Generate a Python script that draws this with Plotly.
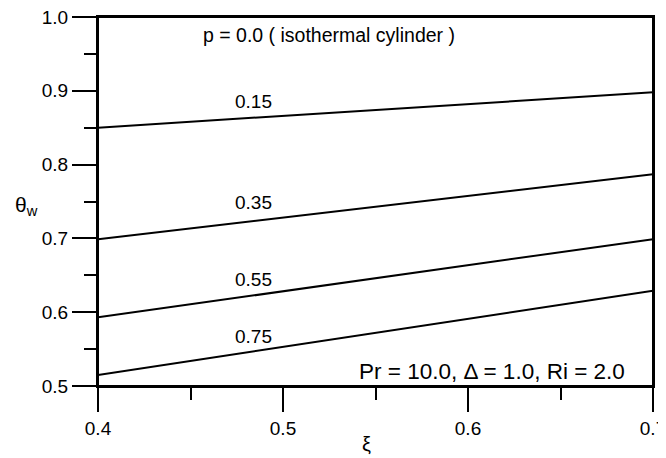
import plotly.graph_objects as go

# Data
xi = [0.4, 0.7]
p_labels = ["0.15", "0.35", "0.55", "0.75"]
theta_w = {
    "0.15": [0.850, 0.898],
    "0.35": [0.699, 0.787],
    "0.55": [0.593, 0.699],
    "0.75": [0.515, 0.629],
}
label_pos_x = [0.484, 0.484, 0.484, 0.484]
label_pos_y = [0.886, 0.748, 0.644, 0.567]

FONT = "Arial, Liberation Sans, Helvetica, sans-serif"
FS = 19

fig = go.Figure()
for p in p_labels:
    fig.add_trace(go.Scatter(x=xi, y=theta_w[p], mode="lines",
                             line=dict(color="black", width=2), showlegend=False))

for p, lx, ly in zip(p_labels, label_pos_x, label_pos_y):
    fig.add_annotation(x=lx, y=ly, text=p, showarrow=False, xanchor="center", yanchor="middle",
                       font=dict(size=FS, color="black", family=FONT))

fig.add_annotation(x=0.525, y=0.975, text="p = 0.0 ( isothermal cylinder )", showarrow=False,
                   xanchor="center", yanchor="middle",
                   font=dict(size=19.5, color="black", family=FONT))
fig.add_annotation(x=0.686, y=0.5196, text="Pr = 10.0, \u0394 = 1.0, Ri = 2.0", showarrow=False,
                   xanchor="right", yanchor="middle",
                   font=dict(size=22.5, color="black", family=FONT))

# axis titles
fig.add_annotation(xref="paper", yref="paper", x=-0.128, y=0.489, text="\u03b8<sub>w</sub>",
                   showarrow=False, xanchor="center", yanchor="middle",
                   font=dict(size=21, color="black", family=FONT))
fig.add_annotation(xref="paper", yref="paper", x=0.483, y=-0.158, text="\u03be",
                   showarrow=False, xanchor="center", yanchor="middle",
                   font=dict(size=20, color="black", family=FONT))

# plot frame
fig.add_shape(type="rect", xref="paper", yref="paper", x0=0, y0=0, x1=1, y1=1,
              line=dict(color="black", width=2), layer="above")

axis_common = dict(showgrid=False, zeroline=False, showline=True, linecolor="black",
                   linewidth=2, mirror=True, ticks="outside", ticklen=24, tickwidth=2,
                   tickcolor="black", automargin=False, ticklabeloverflow="allow",
                   tickfont=dict(size=FS, color="black", family=FONT))

fig.update_xaxes(range=[0.4, 0.7], tick0=0.4, dtick=0.1, tickformat=".1f",
                 minor=dict(dtick=0.05, ticks="outside", ticklen=12, tickwidth=2, tickcolor="black"),
                 **axis_common)
fig.update_yaxes(range=[0.5, 1.0], tick0=0.5, dtick=0.1, tickformat=".1f",
                 minor=dict(dtick=0.05, ticks="outside", ticklen=12, tickwidth=2, tickcolor="black"),
                 **axis_common)

# page body adds an 8px margin; size the figure to fit the window
fig.update_layout(width=658, height=450,
                  margin=dict(l=90, r=13, t=9, b=72, autoexpand=False),
                  plot_bgcolor="white", paper_bgcolor="white",
                  font=dict(family=FONT, size=FS, color="black"))

fig.write_html("out.html")
